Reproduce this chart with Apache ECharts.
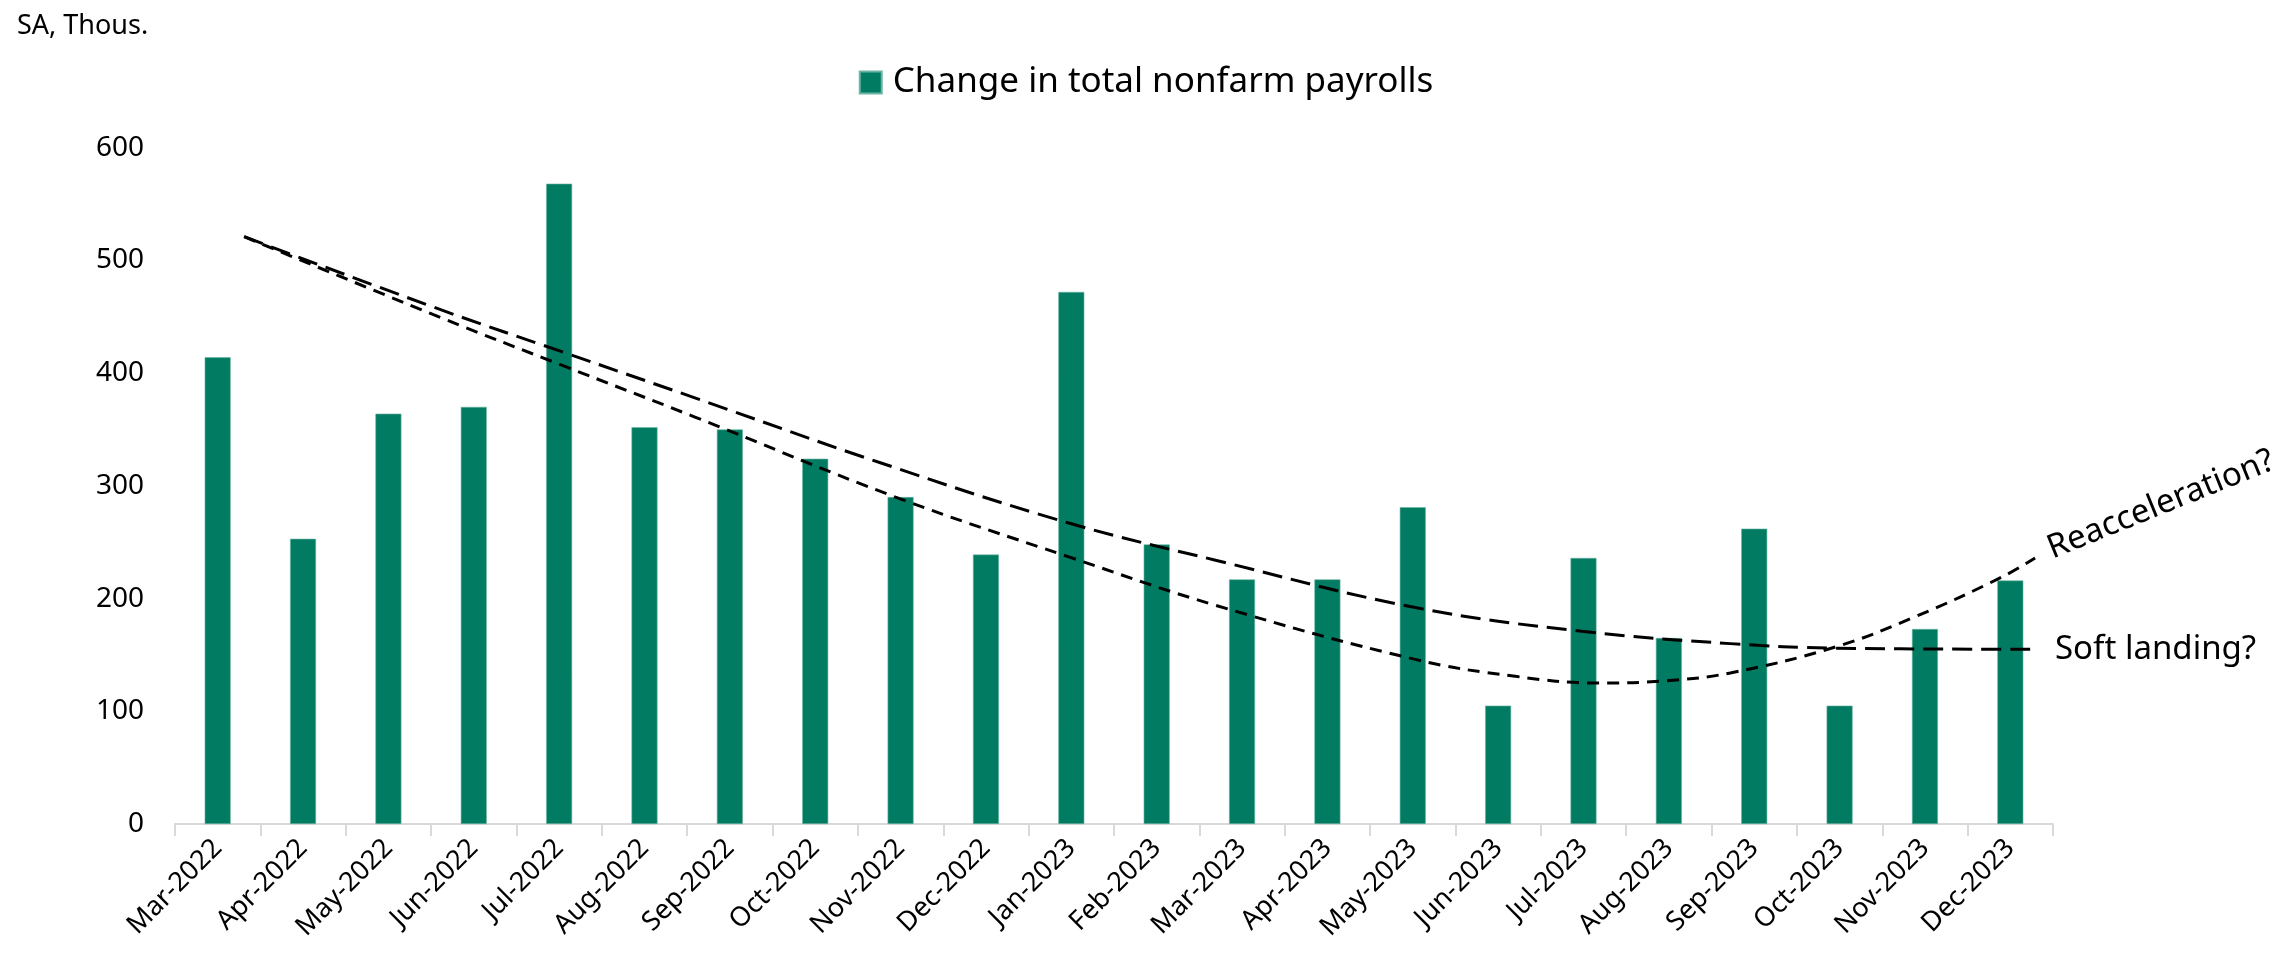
<!DOCTYPE html>
<html>
<head>
<meta charset="utf-8">
<script src="https://cdn.jsdelivr.net/npm/echarts@6/dist/echarts.min.js"></script>
<style>
html,body{margin:0;padding:0;background:#fff;}
#chart{width:2292px;height:958px;}
</style>
</head>
<body>
<div id="chart"></div>
<script>
// ---- data ----
const categories = ['Mar-2022','Apr-2022','May-2022','Jun-2022','Jul-2022','Aug-2022','Sep-2022','Oct-2022','Nov-2022','Dec-2022','Jan-2023','Feb-2023','Mar-2023','Apr-2023','May-2023','Jun-2023','Jul-2023','Aug-2023','Sep-2023','Oct-2023','Nov-2023','Dec-2023'];
const payrolls = [414, 253, 364, 370, 568, 352, 350, 324, 290, 239, 472, 248, 217, 217, 281, 105, 236, 165, 262, 105, 173, 216];
const yTicks = [0, 100, 200, 300, 400, 500, 600];
// path positions in category-index units (0 = Mar-2022 centre)
const softLandingX = [0.31, 2.62, 4.03, 5.59, 7.78, 9.97, 11.69, 14.03, 15.98, 17.72, 18.95, 21.3];
const softLandingY = [521, 456, 419, 378, 320, 267, 234, 192, 171, 160, 156, 155];
const reaccelX = [0.31, 2.62, 4.03, 5.59, 7.94, 9.97, 11.69, 14.03, 15.2, 16.18, 16.96, 17.72, 18.95, 19.89, 20.9, 21.29];
const reaccelY = [521, 449, 407, 361, 290, 237, 194, 146, 131, 125, 127, 134, 157, 184, 219, 236];

const FONT = 'Noto Sans';
const chart = echarts.init(document.getElementById('chart'));
const zip = (a, b) => a.map((v, i) => [v, b[i]]);

chart.setOption({
  animation: false,
  backgroundColor: '#fff',
  textStyle: { fontFamily: FONT, color: '#000' },
  title: {
    text: 'SA, Thous.',
    left: 12, top: 8,
    textStyle: { fontFamily: FONT, fontSize: 27, fontWeight: 'normal', color: '#000' }
  },
  legend: {
    data: ['Change in total nonfarm payrolls'],
    left: 'center', top: 60,
    itemWidth: 22, itemHeight: 22, itemGap: 10,
    icon: 'rect',
    textStyle: { fontFamily: FONT, fontSize: 35, color: '#000', padding: [0, 0, 0, 6] }
  },
  grid: { left: 175, right: 239, top: 147.6, bottom: 134, containLabel: false },
  xAxis: [{
    type: 'category',
    data: categories,
    boundaryGap: true,
    axisLine: { lineStyle: { color: '#d9d9d9', width: 2 } },
    axisTick: { show: true, length: 12, lineStyle: { color: '#d9d9d9', width: 2 } },
    axisLabel: { rotate: 45, fontSize: 27, color: '#000', margin: 20, fontFamily: FONT, interval: 0 }
  }, {
    type: 'value', min: -0.5, max: 21.5, show: false
  }],
  yAxis: {
    type: 'value', min: yTicks[0], max: yTicks[yTicks.length - 1], interval: 100,
    axisLine: { show: false }, axisTick: { show: false }, splitLine: { show: false },
    axisLabel: { fontSize: 28, color: '#000', margin: 31, fontFamily: FONT }
  },
  series: [{
    name: 'Change in total nonfarm payrolls',
    type: 'bar',
    data: payrolls,
    barWidth: 26,
    itemStyle: { color: '#017B61', borderColor: '#6FB5A5', borderWidth: 0.6 }
  }, {
    name: 'Soft landing',
    type: 'line', xAxisIndex: 1,
    data: zip(softLandingX, softLandingY),
    smooth: 0.4, symbol: 'none',
    lineStyle: { color: '#000', width: 3, type: [20, 9] },
    z: 5
  }, {
    name: 'Reacceleration',
    type: 'line', xAxisIndex: 1,
    data: zip(reaccelX, reaccelY),
    smooth: 0.4, symbol: 'none',
    lineStyle: { color: '#000', width: 3, type: [12, 8] },
    z: 5
  }],
  graphic: [{
    type: 'text', x: 2055, y: 650,
    style: { text: 'Soft landing?', fontFamily: FONT, fontSize: 33, fill: '#000', textAlign: 'left', textVerticalAlign: 'middle' }
  }, {
    type: 'text', x: 2049, y: 550, rotation: 22 * Math.PI / 180,
    style: { text: 'Reacceleration?', fontFamily: FONT, fontSize: 33, fill: '#000', textAlign: 'left', textVerticalAlign: 'middle' }
  }]
});
</script>
</body>
</html>
